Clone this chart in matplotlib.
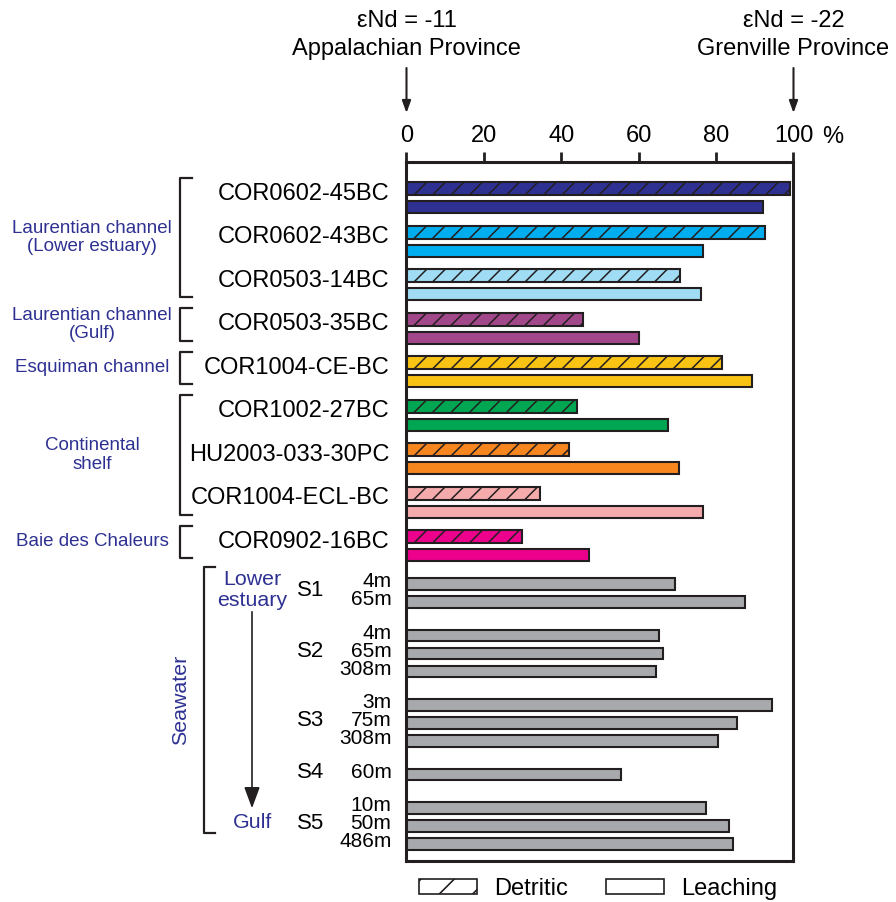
import numpy as np
import matplotlib
matplotlib.use('Agg')
import matplotlib.pyplot as plt
from matplotlib.patches import Patch
from matplotlib.collections import LineCollection

plt.rcParams['font.family'] = ['Liberation Sans', 'DejaVu Sans']
plt.rcParams['hatch.linewidth'] = 1.2

# sediment cores, % of Grenville end-member
cores = ['COR0602-45BC', 'COR0602-43BC', 'COR0503-14BC', 'COR0503-35BC',
         'COR1004-CE-BC', 'COR1002-27BC', 'HU2003-033-30PC', 'COR1004-ECL-BC',
         'COR0902-16BC']
detritic = [99.0, 92.7, 70.7, 45.5, 81.6, 44.0, 42.0, 34.4, 29.8]
leaching = [92.0, 76.6, 76.0, 60.1, 89.3, 67.7, 70.3, 76.6, 47.2]
core_colors = ['#2e3192', '#00aeef', '#a0dcf3', '#a3478b', '#f9c314',
               '#00a651', '#f7861f', '#f5abab', '#ec008c']

groups = ['Laurentian channel\n(Lower estuary)', 'Laurentian channel\n(Gulf)',
          'Esquiman channel', 'Continental\nshelf', 'Baie des Chaleurs']
group_sizes = [3, 1, 1, 3, 1]

# seawater stations
stations = ['S1', 'S2', 'S3', 'S4', 'S5']
depths = [['4m', '65m'], ['4m', '65m', '308m'], ['3m', '75m', '308m'],
          ['60m'], ['10m', '50m', '486m']]
seawater = [[69.3, 87.5], [65.3, 66.4, 64.4], [94.5, 85.4, 80.4],
            [55.3], [77.4, 83.4, 84.4]]

edge = '#231f20'
blue = '#2e3192'
grey = '#a7a9ac'

# layout (y in pixel-like units from the top of the axes)
det_y = 26.5 + 43.5 * np.arange(len(cores))
leach_y = det_y + 18.8

sw_y = []
y = leach_y[-1] + 28.5
for d in depths:
    ys = []
    for _ in d:
        ys.append(y)
        y += 18
    sw_y.append(ys)
    y += 33.5 - 18

fig = plt.figure(figsize=(8.96, 9.02), dpi=100)
ax = fig.add_axes([0.45368, 0.04545, 0.43192, 0.77494])
ax.set_xlim(0, 100)
ax.set_ylim(699, 0)

det_bars = ax.barh(det_y, detritic, height=13, color=core_colors,
                   edgecolor=edge, linewidth=1.5)
ax.barh(leach_y, leaching, height=12, color=core_colors, edgecolor=edge,
        linewidth=1.5)
ax.barh(np.concatenate(sw_y), np.concatenate(seawater), height=11.5,
        color=grey, edgecolor=edge, linewidth=1.5)

# diagonal hatching of the detritic bars (45 deg on screen, ~18.5 px apart)
sx = 100 / 387.0
step = 18.5 * sx
for p in det_bars.patches:
    x0, y0 = p.get_x(), p.get_y()
    w, h = p.get_width(), p.get_height()
    segs = [[(xs, y0 + h), (xs + h * sx, y0)]
            for xs in np.arange(x0 - h * sx + 2 * sx, x0 + w, step)]
    lc = LineCollection(segs, colors=edge, linewidths=1.1, zorder=p.get_zorder())
    ax.add_collection(lc)
    lc.set_clip_path(p)

for s in ax.spines.values():
    s.set_linewidth(2.2)
    s.set_color(edge)
ax.xaxis.tick_top()
ax.set_xticks(range(0, 101, 20))
ax.tick_params(axis='x', direction='out', length=7.5, width=2, pad=3,
               labelsize=17, color=edge)
ax.set_yticks([])

xt = ax.get_xaxis_transform()
yt = ax.get_yaxis_transform()

ax.annotate('%', xy=(100, 1.0272), xycoords=xt, xytext=(20.5, 0),
            textcoords='offset points', ha='left', va='baseline', fontsize=17)

# end-member headings and arrows
for xv, l1, l2 in [(0, 'εNd = -11', 'Appalachian Province'),
                   (100, 'εNd = -22', 'Grenville Province')]:
    ax.text(xv, 1.2024, l1, transform=xt, ha='center', va='center', fontsize=17)
    ax.text(xv, 1.1617, l2, transform=xt, ha='center', va='center', fontsize=17)
    ax.annotate('', xy=(xv, 1.0701), xytext=(xv, 1.1345), xycoords=xt,
                textcoords=xt, annotation_clip=False,
                arrowprops=dict(arrowstyle='-|>,head_length=0.36,head_width=0.13',
                                mutation_scale=20, lw=1.5, color=edge,
                                shrinkA=0, shrinkB=0))

# sample names
for i, name in enumerate(cores):
    ax.text(-0.0444, (det_y[i] + leach_y[i]) / 2 - 4, name, transform=yt,
            ha='right', va='center', fontsize=17)

# group brackets and labels
start = 0
for g, n in zip(groups, group_sizes):
    top = det_y[start] - 11
    bot = leach_y[start + n - 1] + 3
    ax.plot([-0.554, -0.584, -0.584, -0.554], [top, top, bot, bot],
            transform=yt, clip_on=False, color=edge, lw=1.6)
    mid = (det_y[start] + leach_y[start + n - 1]) / 2 - 4
    ax.text(-0.8127, mid, g, transform=yt, ha='center', va='center',
            fontsize=13.5, color=blue, linespacing=1.1)
    start += n

# seawater labels
for st, ds, ys in zip(stations, depths, sw_y):
    for d, yy in zip(ds, ys):
        ax.text(-0.039, yy - 2, d, transform=yt, ha='right', va='center',
                fontsize=15)
    ax.text(-0.2468, np.mean(ys) - 2, st, transform=yt, ha='center',
            va='center', fontsize=16)

sw_top = sw_y[0][0] - 17
sw_bot = sw_y[-1][-1] - 11
ax.plot([-0.4961, -0.5245, -0.5245, -0.4961], [sw_top, sw_top, sw_bot, sw_bot],
        transform=yt, clip_on=False, color=edge, lw=1.6)
ax.text(-0.5827, (sw_top + sw_bot) / 2, 'Seawater', transform=yt, rotation=90,
        ha='center', va='center', fontsize=15.4, color=blue)

le_y = sw_y[0][0] + 6
gulf_y = np.mean(sw_y[-1]) - 3.5
ax.text(-0.3992, le_y, 'Lower\nestuary', transform=yt, ha='center',
        va='center', fontsize=15.4, color=blue, linespacing=1.1)
ax.text(-0.3992, gulf_y, 'Gulf', transform=yt, ha='center', va='center',
        fontsize=15.4, color=blue)
ax.annotate('', xy=(-0.3992, gulf_y - 14), xytext=(-0.3992, le_y + 22),
            xycoords=yt, textcoords=yt, annotation_clip=False,
            arrowprops=dict(arrowstyle='-|>,head_length=0.65,head_width=0.24',
                            mutation_scale=20, lw=1.2, color=edge,
                            shrinkA=0, shrinkB=0))

# legend
handles = [Patch(facecolor='white', edgecolor=edge, hatch='/', linewidth=1.2),
           Patch(facecolor='white', edgecolor=edge, linewidth=1.2)]
fig.legend(handles, ['Detritic', 'Leaching'], loc='center left',
           bbox_to_anchor=(419 / 896, 1 - 889 / 902), ncol=2, frameon=False,
           fontsize=17, handlelength=2.46, handleheight=0.57,
           handletextpad=0.72, columnspacing=1.6, borderpad=0,
           borderaxespad=0)

plt.savefig('out.png', dpi=100)
plt.close()
